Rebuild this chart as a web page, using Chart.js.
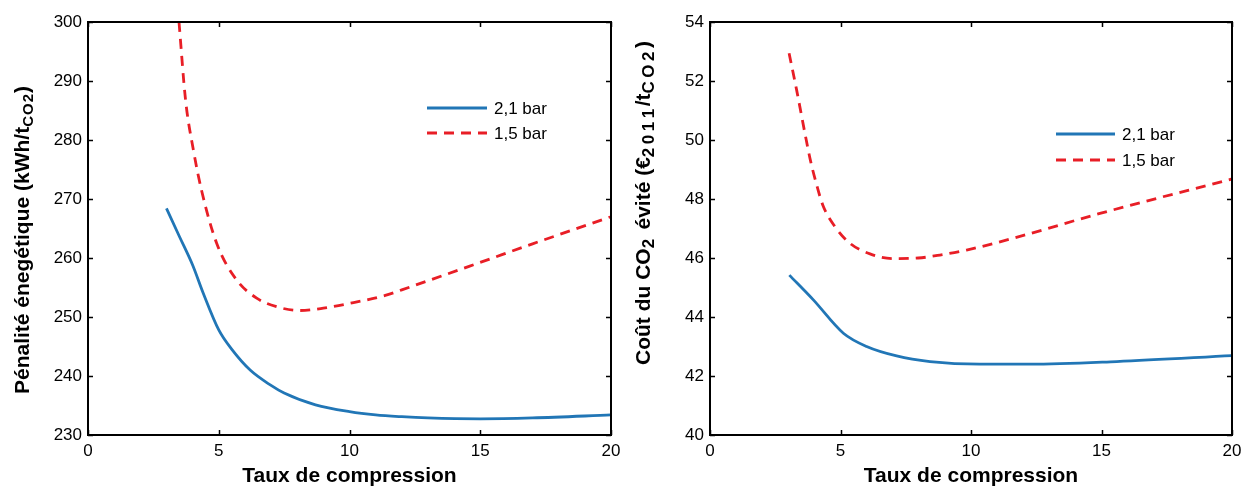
<!DOCTYPE html>
<html>
<head>
<meta charset="utf-8">
<script src="https://cdn.jsdelivr.net/npm/chart.js@4/dist/chart.umd.min.js"></script>
<style>
html,body{margin:0;padding:0;background:#fff;}
#wrap{position:relative;width:1244px;height:486px;overflow:hidden;}
.c{position:absolute;top:0;width:622px;height:486px;}
</style>
</head>
<body>
<div id="wrap">
<div class="c" style="left:0"><canvas id="c1" width="622" height="486"></canvas></div>
<div class="c" style="left:622px"><canvas id="c2" width="622" height="486"></canvas></div>
</div>
<script>
// ---------- DATA ----------
const seriesNames = ['2,1 bar', '1,5 bar'];
const xTicks = [0, 5, 10, 15, 20];

// Left chart: Pénalité énergétique
const penX_21 = [3, 3.5, 4, 4.4, 5, 5.5, 6.2, 7, 7.5, 8.7, 10, 11, 12, 13, 15, 17, 20];
const penY_21 = [268.4, 263.6, 258.8, 254.1, 247.8, 244.5, 241.0, 238.4, 237.1, 235.1, 233.95, 233.4, 233.1, 232.9, 232.75, 232.9, 233.4];
const penX_15 = [3.48, 3.73, 4.03, 4.34, 4.92, 5.68, 6.45, 7.21, 8.1, 9.0, 10, 11.4, 12, 14.9, 17, 20];
const penY_15 = [300, 286.8, 278.3, 271.5, 262.5, 256.3, 253.2, 251.75, 251.1, 251.5, 252.3, 253.7, 254.6, 259.1, 262.4, 267.0];
const penYTicks = [230, 240, 250, 260, 270, 280, 290, 300];

// Right chart: Coût du CO2 évité
const costX_21 = [3.04, 3.96, 5.11, 6.0, 7.15, 8.43, 10.34, 12.26, 15.58, 20];
const costY_21 = [45.42, 44.58, 43.45, 43.0, 42.68, 42.49, 42.40, 42.40, 42.49, 42.69];
const costX_15 = [3.03, 3.32, 3.65, 3.85, 4.05, 4.32, 4.79, 5.36, 6.13, 7.02, 7.98, 8.81, 9.83, 11.62, 14.94, 20];
const costY_15 = [52.94, 51.69, 50.17, 49.3, 48.6, 47.8, 47.06, 46.5, 46.14, 45.98, 46.0, 46.1, 46.27, 46.67, 47.51, 48.68];
const costYTicks = [40, 42, 44, 46, 48, 50, 52, 54];

// ---------- STYLE ----------
const FONT = '"Liberation Sans", Arial, sans-serif';
const BLUE = 'rgb(33,118,182)';
const RED = 'rgb(232,30,38)';

function pts(xs, ys){ return xs.map((x,i)=>({x:x, y:ys[i]})); }

const framePlugin = {
  id: 'frame',
  afterDraw(chart, args, opts){
    const ctx = chart.ctx;
    const a = chart.chartArea;
    const xs = chart.scales.x, ys = chart.scales.y;
    ctx.save();
    ctx.strokeStyle = '#000';
    ctx.lineWidth = 2;
    ctx.strokeRect(a.left, a.top, a.right - a.left, a.bottom - a.top);
    ctx.lineWidth = 1.5;
    const tl = 5;
    ctx.beginPath();
    xs.ticks.forEach(t=>{
      const px = Math.round(xs.getPixelForValue(t.value)) + 0.5;
      ctx.moveTo(px, a.bottom); ctx.lineTo(px, a.bottom - tl);
      ctx.moveTo(px, a.top); ctx.lineTo(px, a.top + tl);
    });
    ys.ticks.forEach(t=>{
      const py = Math.round(ys.getPixelForValue(t.value)) + 0.5;
      ctx.moveTo(a.left, py); ctx.lineTo(a.left + tl, py);
      ctx.moveTo(a.right, py); ctx.lineTo(a.right - tl, py);
    });
    ctx.stroke();

    // x title
    ctx.fillStyle = '#000';
    ctx.font = 'bold 21px ' + FONT;
    ctx.textAlign = 'center';
    ctx.textBaseline = 'alphabetic';
    ctx.fillText(opts.xTitle, (a.left + a.right)/2, 482);

    // y title (rich, rotated)
    const size = 21;
    let total = 0;
    const items = opts.yTitle.map(p=>{
      const fs = p.sub ? opts.subSize : size;
      const ls = p.sub ? opts.subSpacing : 0;
      ctx.font = 'bold ' + fs + 'px ' + FONT;
      const w = ctx.measureText(p.t).width + ls * p.t.length;
      total += w;
      return {t:p.t, fs:fs, w:w, sub:p.sub, ls:ls};
    });
    ctx.translate(opts.yTitleX, opts.yTitleCenter);
    ctx.rotate(-Math.PI/2);
    ctx.textAlign = 'left';
    let x = -total/2;
    items.forEach(it=>{
      ctx.font = 'bold ' + it.fs + 'px ' + FONT;
      if (it.ls) {
        let cx = x;
        for (const ch of it.t) {
          ctx.fillText(ch, cx, 4);
          cx += ctx.measureText(ch).width + it.ls;
        }
      } else {
        ctx.fillText(it.t, x, it.sub ? 4 : 0);
      }
      x += it.w;
    });
    ctx.restore();

    // legend
    ctx.save();
    const L = opts.legend;
    chart.data.datasets.forEach((ds, i)=>{
      const y = L.y[i];
      ctx.strokeStyle = ds.borderColor;
      ctx.lineWidth = ds.borderWidth;
      ctx.setLineDash(ds.borderDash || []);
      ctx.beginPath();
      ctx.moveTo(L.x1, y); ctx.lineTo(L.x2, y);
      ctx.stroke();
      ctx.setLineDash([]);
      ctx.fillStyle = '#000';
      ctx.font = '17px ' + FONT;
      ctx.textAlign = 'left';
      ctx.textBaseline = 'middle';
      ctx.fillText(ds.label, L.x2 + 7, y + 1);
    });
    ctx.restore();
  }
};

function makeChart(id, d21, d15, yMin, yMax, yTickVals, frameOpts, padRight){
  return new Chart(document.getElementById(id), {
    type: 'line',
    data: {
      datasets: [
        {label: seriesNames[0], data: d21, borderColor: BLUE, borderWidth: 2.8, pointRadius: 0, fill: false, cubicInterpolationMode: 'monotone'},
        {label: seriesNames[1], data: d15, borderColor: RED, borderWidth: 2.8, borderDash: [10, 7], pointRadius: 0, fill: false, cubicInterpolationMode: 'monotone'}
      ]
    },
    options: {
      responsive: false,
      animation: false,
      events: [],
      layout: {padding: {left: 0, top: 22, right: padRight, bottom: 0}},
      plugins: {legend: {display: false}, tooltip: {enabled: false}, frame: frameOpts},
      scales: {
        x: {
          type: 'linear', min: 0, max: 20,
          afterBuildTicks: s => { s.ticks = xTicks.map(v=>({value:v})); },
          afterFit: s => { s.height = 51; s.paddingLeft = 0; s.paddingRight = 0; },
          grid: {display: false, drawTicks: false},
          border: {display: false},
          ticks: {color: '#000', font: {family: FONT, size: 17}, padding: 6, maxRotation: 0}
        },
        y: {
          type: 'linear', min: yMin, max: yMax,
          afterBuildTicks: s => { s.ticks = yTickVals.map(v=>({value:v})); },
          afterFit: s => { s.width = 88; s.paddingTop = 0; s.paddingBottom = 0; },
          grid: {display: false, drawTicks: false},
          border: {display: false},
          ticks: {color: '#000', font: {family: FONT, size: 17}, padding: 6}
        }
      }
    },
    plugins: [framePlugin]
  });
}

makeChart('c1', pts(penX_21, penY_21), pts(penX_15, penY_15), 230, 300, penYTicks, {
  xTitle: 'Taux de compression',
  yTitle: [{t:'Pénalité énegétique (kWh/t'}, {t:'CO2', sub:true}, {t:')'}],
  subSize: 15, subSpacing: 1,
  yTitleX: 29, yTitleCenter: 240,
  legend: {x1: 427, x2: 487, y: [108, 133]}
}, 11);

makeChart('c2', pts(costX_21, costY_21), pts(costX_15, costY_15), 40, 54, costYTicks, {
  xTitle: 'Taux de compression',
  yTitle: [{t:'Coût du CO'}, {t:'2', sub:true}, {t:' évité (€'}, {t:'2011', sub:true}, {t:'/t'}, {t:'CO2', sub:true}, {t:')'}],
  subSize: 17, subSpacing: 3.5,
  yTitleX: 28, yTitleCenter: 203,
  legend: {x1: 434, x2: 493, y: [134, 160]}
}, 12);
</script>
</body>
</html>
